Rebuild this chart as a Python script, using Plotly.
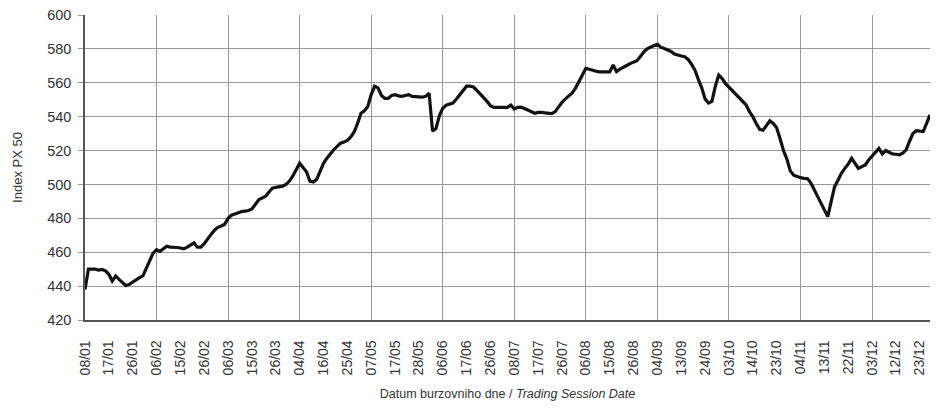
import plotly.graph_objects as go

tick_labels = ["08/01", "17/01", "26/01", "06/02", "15/02", "26/02", "06/03", "15/03", "26/03",
               "04/04", "16/04", "25/04", "07/05", "17/05", "28/05", "06/06", "17/06", "26/06",
               "08/07", "17/07", "26/07", "06/08", "15/08", "26/08", "04/09", "13/09", "24/09",
               "03/10", "14/10", "23/10", "04/11", "13/11", "22/11", "03/12", "12/12", "23/12"]

px50 = [
    438, 450, 450, 450, 449.5, 449.8, 449, 447, 443, 446,
    444, 442, 440.3, 441, 442.5, 444, 445, 446, 450, 455,
    459.5, 461.5, 460.5, 462, 463.5, 463, 463, 462.8, 462.5, 462,
    463, 464, 465.5, 463, 463, 465, 468, 470.5, 473, 474.7,
    475.5, 476.5, 480, 481.8, 482.5, 483.5, 484, 484.3, 484.6, 485.5,
    488, 491, 492, 493, 495.5, 497.8, 498.3, 498.5, 499, 500,
    502, 505, 509, 512.5, 510, 507.5, 502, 501.5, 503, 508,
    512.5, 515.5, 518.4, 520.5, 522.5, 524.3, 525, 526, 528, 531,
    536, 542, 543.5, 546, 553, 558, 557, 552.5, 550.8, 550.8,
    552.5, 553, 552.3, 552, 552.5, 553, 552, 551.8, 551.8, 551.5,
    552, 553.8, 531.5, 533, 540.5, 545, 546.8, 547.5, 548, 550.5,
    553, 556, 558, 558, 557.5, 555.5, 553.5, 551.5, 549, 546.5,
    545.5, 545.5, 545.5, 545.5, 545.5, 546.8, 544.5, 545.5, 545.6, 544.8,
    544, 543.2, 542, 542.5, 542.6, 542.2, 542, 541.8, 543, 546,
    548.5, 550.5, 552, 554, 557, 561, 565, 568.5, 568, 567.3,
    566.8, 566.4, 566.4, 566.6, 566.4, 570.5, 566.6, 568, 569.3, 570.2,
    571.3, 572, 573, 575.5, 578.2, 580, 581.2, 582, 582.7, 581,
    580.2, 579.5, 578.5, 577, 576.3, 575.8, 575.4, 573.8, 571, 567.5,
    562, 557, 550.5, 548, 549, 558, 564.6, 562.5, 559.5, 557.5,
    555.5, 553.5, 551.5, 549.5, 547, 543, 540, 536, 532.5, 532,
    535, 537.6, 536, 533.5, 527, 520, 515, 508, 505.5, 504.6,
    504, 503.6, 503.5, 501, 497, 493, 488.5, 484, 481, 490,
    498.7, 502.5, 506.6, 509.5, 512, 515.4, 512.5, 509.5, 510.5, 511.5,
    514.5, 517, 519, 521.3, 518, 520, 519, 518, 517.8, 517.5,
    518.5, 520.4, 525.5, 530, 531.7, 531.5, 531.2, 536, 541,
]

sessions = list(range(len(px50)))
label_step = 7
grid_step = 21
tick_vals = [i * label_step for i in range(len(tick_labels))]
grid_vals = [i * grid_step for i in range(12)]

font_family = "Liberation Sans, Arial, sans-serif"
text_color = "#333333"

fig = go.Figure()
fig.add_trace(go.Scatter(
    x=sessions, y=px50, mode="lines",
    line=dict(color="#111111", width=3.2, shape="linear"),
    showlegend=False, hoverinfo="skip",
))

fig.update_layout(
    width=922, height=400,
    margin=dict(l=77, r=0, t=7, b=88),
    paper_bgcolor="white", plot_bgcolor="white",
    font=dict(family=font_family, color=text_color, size=14),
    xaxis=dict(
        range=[0, len(px50) - 1], automargin=False,
        tickmode="array", tickvals=tick_vals, ticktext=tick_labels,
        tickangle=-90, tickfont=dict(size=14, color=text_color),
        ticklabelstandoff=13, ticklabeloverflow="allow",
        showgrid=False, zeroline=False,
        showline=True, linecolor="#555555", linewidth=1.5,
        ticks="",
        minor=dict(tickmode="array", tickvals=grid_vals, showgrid=True,
                   gridcolor="#999999", gridwidth=1, ticks=""),
        title=dict(text="Datum burzovniho dne / <i>Trading Session Date</i>",
                   font=dict(size=12.5, color=text_color), standoff=15),
    ),
    yaxis=dict(
        range=[420, 600], automargin=False,
        tickmode="array", tickvals=list(range(420, 601, 20)),
        tickfont=dict(size=14.5, color=text_color),
        ticklabelstandoff=4, ticklabeloverflow="allow",
        showgrid=True, gridcolor="#999999", gridwidth=1,
        zeroline=False, showline=True, linecolor="#555555", linewidth=1.5,
        ticks="outside", ticklen=5, tickcolor="#999999",
        title=dict(text="Index PX 50", font=dict(size=13, color=text_color), standoff=22),
    ),
)

fig.write_html("out.html")
